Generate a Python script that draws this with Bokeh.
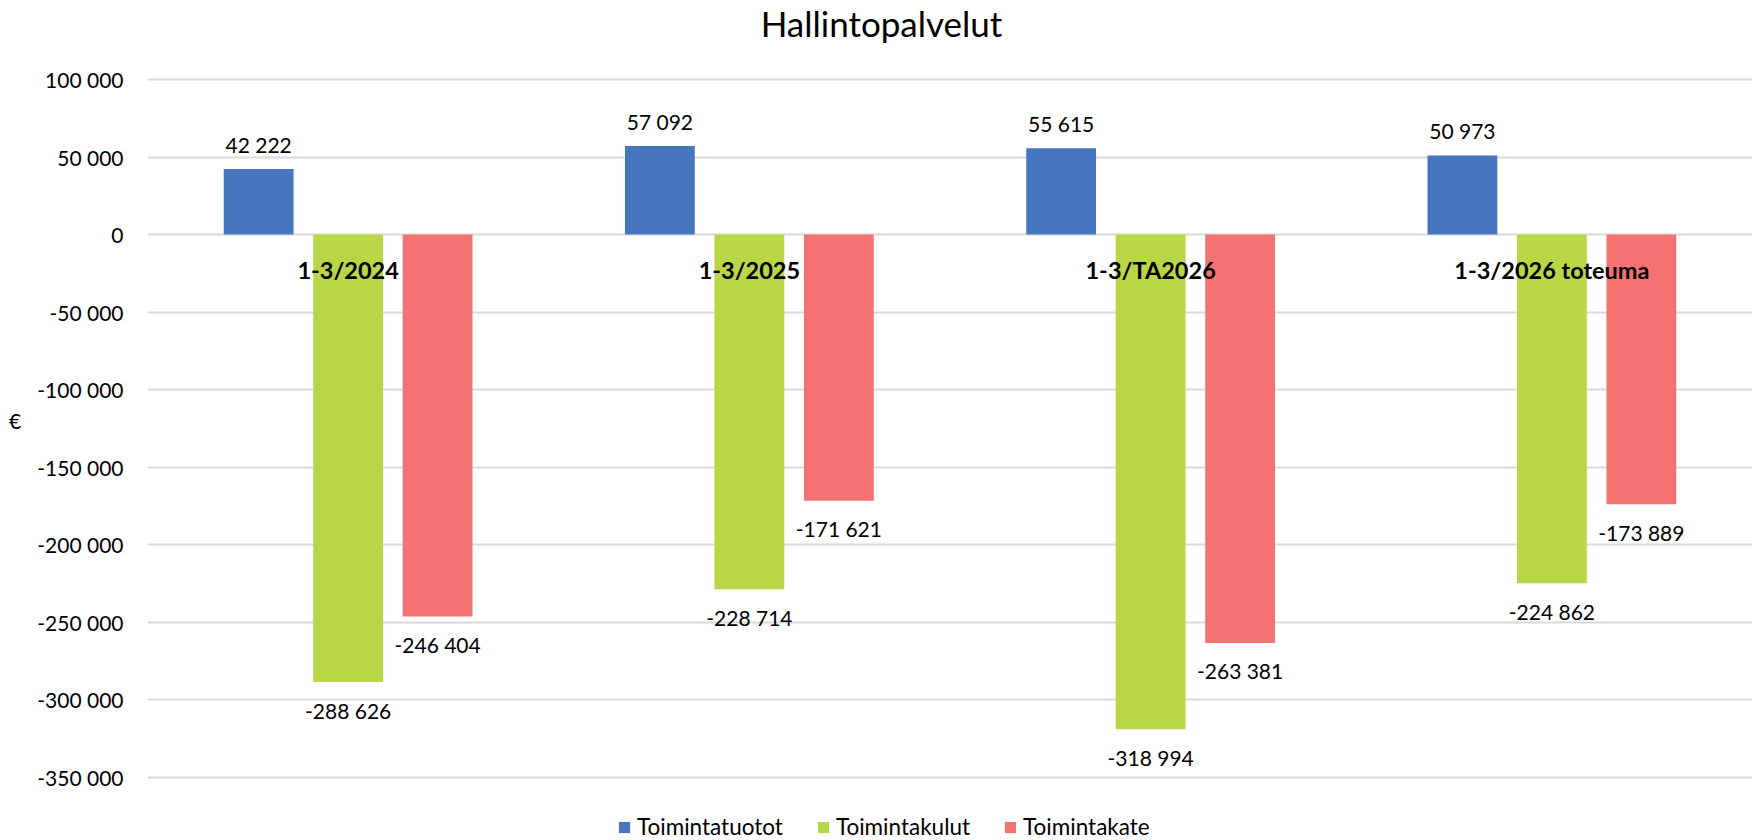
from bokeh.plotting import figure
from bokeh.models import (ColumnDataSource, FactorRange, Range1d, FixedTicker, Label,
                          CustomJSTickFormatter, Legend, LegendItem, CDSView, BooleanFilter)
from bokeh.transform import dodge
from bokeh.core.properties import value
from bokeh.embed import file_html
from bokeh.resources import INLINE

# ---- data ----
title = "Hallintopalvelut"
y_label = "€"
categories = ["1-3/2024", "1-3/2025", "1-3/TA2026", "1-3/2026 toteuma"]
series_names = ["Toimintatuotot", "Toimintakulut", "Toimintakate"]
toimintatuotot = [42222, 57092, 55615, 50973]
toimintakulut = [-288626, -228714, -318994, -224862]
toimintakate = [-246404, -171621, -263381, -173889]
y_ticks = [100000, 50000, 0, -50000, -100000, -150000, -200000, -250000, -300000, -350000]

# ---- style / layout ----
FONT = "Lato"
W, H = 1752, 840
colors = ["#4677BE", "#B9D646", "#F57272"]
offsets = [-0.223, 0.0, 0.223]
bar_width = 0.174
# the frame spans the full height so that the title and legend can sit inside it;
# gridlines / ticks only span the tick values
top_px, bottom_px = 79.0, 776.7          # pixel rows of the highest / lowest tick
span = max(y_ticks) - min(y_ticks)
per_px = span / (bottom_px - top_px)
y_hi = max(y_ticks) + top_px * per_px
y_lo = min(y_ticks) - (H - bottom_px) * per_px

p = figure(width=W, height=H, x_range=FactorRange(*categories),
           y_range=Range1d(y_lo, y_hi), output_backend="svg", toolbar_location=None,
           min_border_left=147, min_border_right=0, min_border_top=0, min_border_bottom=0)

p.outline_line_color = None
p.xgrid.grid_line_color = None
p.ygrid.grid_line_color = "#D9D9D9"
p.ygrid.grid_line_width = 2
p.xaxis.visible = False

p.yaxis.ticker = FixedTicker(ticks=y_ticks, minor_ticks=[])
p.yaxis.formatter = CustomJSTickFormatter(code="""
const s = Math.abs(tick).toFixed(0).replace(/\\B(?=(\\d{3})+(?!\\d))/g, ' ');
return (tick < 0 ? '-' : '') + s;
""")
p.yaxis.axis_line_color = None
p.yaxis.major_tick_line_color = None
p.yaxis.minor_tick_line_color = None
p.yaxis.major_tick_out = 0
p.yaxis.major_tick_in = 0
p.yaxis.major_label_text_font = FONT
p.yaxis.major_label_text_font_size = "21px"
p.yaxis.major_label_text_color = "#000000"
p.yaxis.major_label_standoff = 24
p.yaxis.axis_label = y_label
p.yaxis.axis_label_orientation = "horizontal"
p.yaxis.axis_label_text_font = FONT
p.yaxis.axis_label_text_font_size = "21px"
p.yaxis.axis_label_text_font_style = "normal"
p.yaxis.axis_label_text_color = "#000000"
p.yaxis.axis_label_standoff = 13

def fmt(v):
    return f"{v:,}".replace(",", " ")

items = []
for name, vals, col, off in zip(series_names, [toimintatuotot, toimintakulut, toimintakate],
                                colors, offsets):
    src = ColumnDataSource(dict(cat=categories, val=vals, label=[fmt(v) for v in vals]))
    r = p.vbar(x=dodge("cat", off, range=p.x_range), top="val", bottom=0, width=bar_width,
               source=src, fill_color=col, line_color=None)
    items.append(LegendItem(label=name, renderers=[r]))
    pos = CDSView(filter=BooleanFilter([v >= 0 for v in vals]))
    neg = CDSView(filter=BooleanFilter([v < 0 for v in vals]))
    for view, yoff in ((pos, -25), (neg, 28)):
        p.text(x=dodge("cat", off, range=p.x_range), y="val", text="label", source=src, view=view,
               text_font=value(FONT), text_font_size="21px", text_color="#000000",
               text_align="center", text_baseline="middle", y_offset=yoff)

cat_src = ColumnDataSource(dict(cat=categories, zero=[0] * len(categories)))
p.text(x="cat", y="zero", text="cat", source=cat_src, text_font=value(FONT),
       text_font_size="23.5px", text_font_style="bold", text_color="#000000",
       text_align="center", text_baseline="middle", y_offset=35)

p.add_layout(Label(x=734, y=H - 22, x_units="screen", y_units="screen", text=title,
                   text_font=FONT, text_font_size="35px", text_color="#000000",
                   text_align="center", text_baseline="alphabetic"))

legend = Legend(items=items, orientation="horizontal", location=(470, 0),
                border_line_color=None, background_fill_alpha=0, padding=0, margin=0,
                spacing=33, label_standoff=6, glyph_width=14, glyph_height=14,
                label_text_font=FONT, label_text_font_size="22.5px", label_text_color="#000000")
p.add_layout(legend)

open("out.html", "w").write(file_html(p, INLINE))
